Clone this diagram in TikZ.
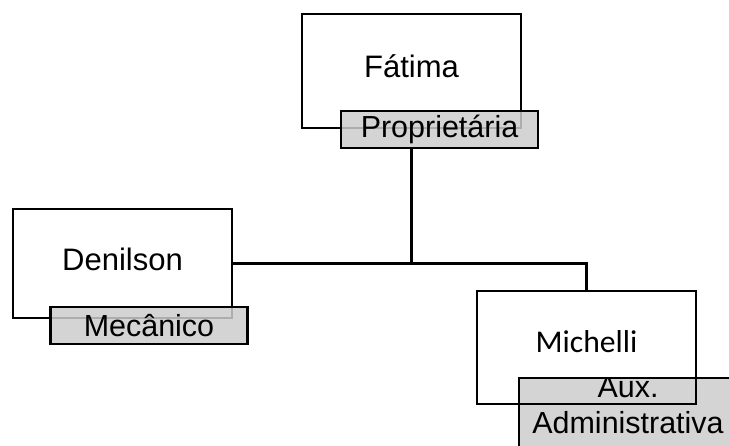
\documentclass[tikz,border=0pt]{standalone}
\usepackage{fontspec}
\setmainfont{Liberation Sans}
\newfontfamily\calibrifont{Carlito}
\usetikzlibrary{positioning}
\definecolor{labelgray}{RGB}{204,204,204}
\tikzset{
	person/.style={draw, line width=2.2pt, minimum width=6.57cm, inner sep=0pt, outer sep=0pt, font=\fontsize{26.5}{30}\selectfont},
	role/.style={draw, line width=2.2pt, fill=labelgray, fill opacity=0.85, text opacity=1, minimum width=5.92cm, minimum height=1.11cm, inner sep=0pt, outer sep=0pt, font=\fontsize{26}{30}\selectfont},
	roletext/.style={inner sep=0pt, anchor=base, font=\fontsize{26}{30}\selectfont},
	link/.style={line width=2.2pt}
}
\begin{document}
\begin{tikzpicture}[x=0.03cm, y=-0.03cm]
	\useasboundingbox (0,0) rectangle (729,445);
	\clip (0,0) rectangle (729,445);
	\node[person, minimum height=3.42cm, text depth=0.3cm] (fatima) at (411.5,71) {Fátima};
	\node[role] (prop) at (439.5,129.5) {Proprietária};
	\node[person, minimum height=3.27cm, text depth=0.25cm] (denilson) at (122.5,263.5) {Denilson};
	\node[role] (mec) at (149,325.5) {Mecânico};
	% rotulo cortado pela borda da figura
	\node[role, minimum width=6.63cm, minimum height=2.4cm, anchor=north west] (aux) at (519,378) {};
	\begin{scope}
		\clip (aux.north west) rectangle (aux.south east);
		\node[roletext] (auxa) at (628,397) {Aux.};
		\node[roletext] (auxb) at (628,433) {Administrativa};
	\end{scope}
	\node[person, font=\calibrifont\fontsize{27}{30}\selectfont, minimum height=3.39cm, text depth=0.35cm] (michelli) at (586.5,347.5) {Michelli};

	\draw[link] (prop.south -| fatima.south) -- (fatima.south |- denilson.east);
	\draw[link] (denilson.east) -| (michelli.north);
\end{tikzpicture}
\end{document}
